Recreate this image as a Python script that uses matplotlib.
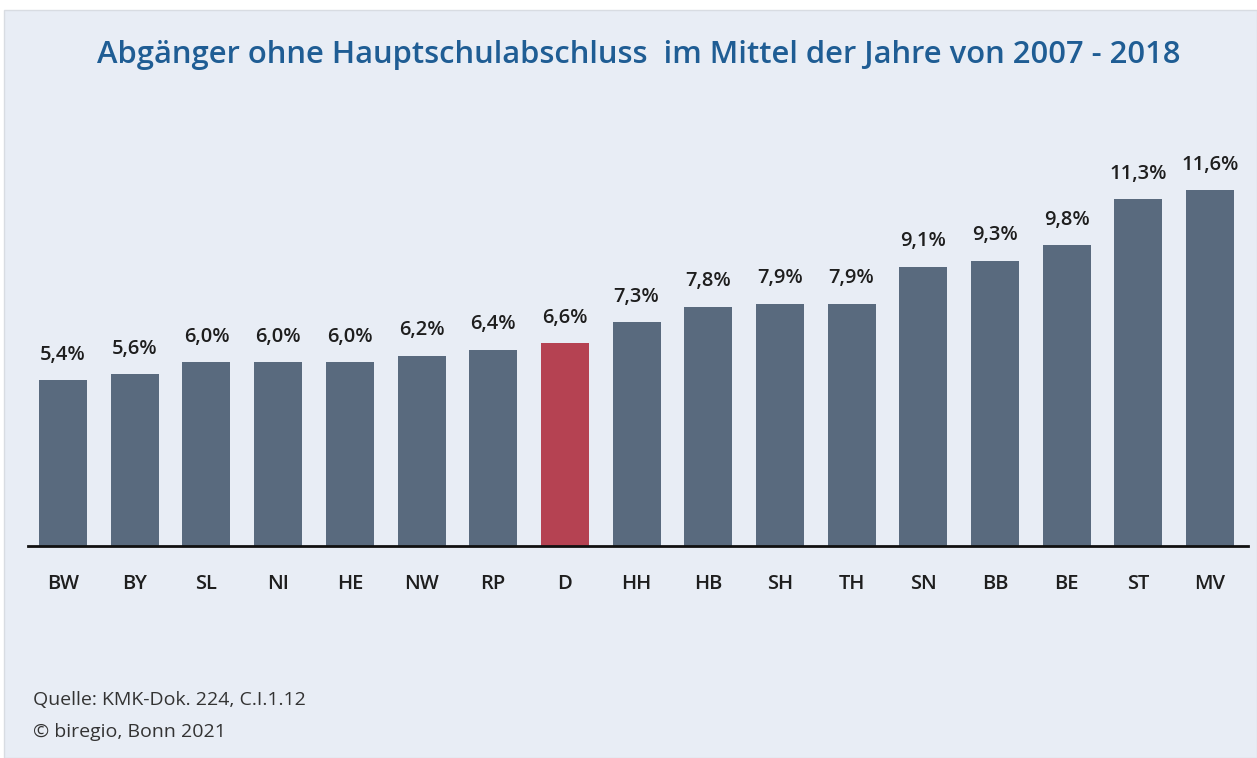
import matplotlib
matplotlib.use("Agg")
import matplotlib.pyplot as plt
from matplotlib.patches import Rectangle

categories = ["BW", "BY", "SL", "NI", "HE", "NW", "RP", "D", "HH", "HB", "SH", "TH", "SN", "BB", "BE", "ST", "MV"]
values = [5.4, 5.6, 6.0, 6.0, 6.0, 6.2, 6.4, 6.6, 7.3, 7.8, 7.9, 7.9, 9.1, 9.3, 9.8, 11.3, 11.6]
labels = ["5,4%", "5,6%", "6,0%", "6,0%", "6,0%", "6,2%", "6,4%", "6,6%", "7,3%", "7,8%", "7,9%", "7,9%", "9,1%", "9,3%", "9,8%", "11,3%", "11,6%"]
highlight = "D"

title = "Abgänger ohne Hauptschulabschluss  im Mittel der Jahre von 2007 - 2018"
source = "Quelle: KMK-Dok. 224, C.I.1.12"
copyright_txt = "© biregio, Bonn 2021"

plt.rcParams['font.family'] = ['Open Sans', 'DejaVu Sans']

W, H = 1257, 758
fig = plt.figure(figsize=(W / 100, H / 100), dpi=100)
fig.patch.set_facecolor("white")
bg = "#E8EDF5"
rect = Rectangle((4 / W, 0), 1 - 4 / W, 1 - 10 / H, transform=fig.transFigure,
                 facecolor=bg, edgecolor="#D8DCE2", linewidth=1, zorder=-5)
fig.patches.append(rect)

ax = fig.add_axes([28 / W, 212 / H, 1220 / W, 399 / H])
ax.set_zorder(5)
ax.patch.set_alpha(0)

colors = ["#B54252" if c == highlight else "#596A7E" for c in categories]
x = list(range(len(categories)))
bars = ax.bar(x, values, width=0.67, color=colors, zorder=2)
for b, lab in zip(bars, labels):
    ax.annotate(lab, (b.get_x() + b.get_width() / 2, b.get_height()), xytext=(0, 11),
                textcoords="offset points", ha="center", va="bottom", fontsize=14.5,
                fontweight="semibold", color="#1E1E1E")

ax.set_xlim(-0.49, len(categories) - 0.47)
ax.set_ylim(0, 13)
ax.set_xticks(x)
ax.set_xticklabels(categories, fontsize=14.5, fontweight="semibold", color="#1E1E1E")
ax.tick_params(axis="x", length=0, pad=20)
ax.set_yticks([])
for s in ["top", "right", "left"]:
    ax.spines[s].set_visible(False)
ax.spines["bottom"].set_linewidth(2)
ax.spines["bottom"].set_color("#111111")

fig.text(639 / W, 1 - 55 / H, title, ha="center", va="center", fontsize=22.3, color="#1F5D94",
         fontweight="semibold")
fig.text(33 / W, 1 - 700 / H, source, ha="left", va="center", fontsize=14, color="#333333")
fig.text(33 / W, 1 - 732 / H, copyright_txt, ha="left", va="center", fontsize=14, color="#333333")

fig.savefig("out.png", dpi=100, facecolor=fig.get_facecolor())
